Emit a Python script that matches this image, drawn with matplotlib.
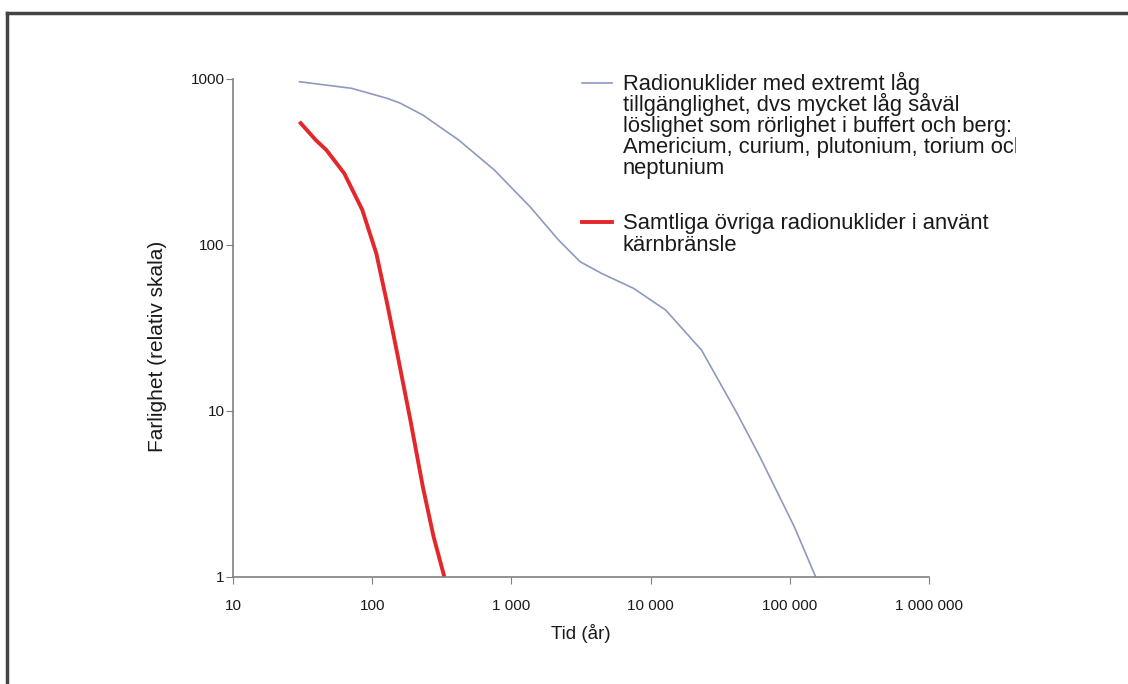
import matplotlib
matplotlib.use("Agg")
import matplotlib.pyplot as plt
from matplotlib.lines import Line2D
from matplotlib.transforms import Bbox, TransformedBbox

plt.rcParams['font.family'] = ['Liberation Sans', 'DejaVu Sans']

# Data
blue_x = [30, 71, 128, 158, 231, 260, 418, 754, 1361, 2185, 3110, 4436, 7550,
          12850, 23200, 41800, 61100, 75600, 107700, 153500]
blue_y = [963, 879, 765, 717, 607, 566, 429, 283, 170, 107, 79.4, 67.5, 54.8,
          40.5, 23.3, 9.68, 5.28, 3.67, 2.01, 1.0]

red_x = [30, 39.3, 46.9, 63, 84.8, 107, 128, 153, 188, 231, 276, 330]
red_y = [553, 429, 373, 270, 163, 89.1, 44.5, 21.2, 8.83, 3.50, 1.75, 1.0]

x_ticks = [10, 100, 1000, 10000, 100000, 1000000]
x_ticklabels = ["10", "100", "1 000", "10 000", "100 000", "1 000 000"]
y_ticks = [1, 10, 100, 1000]
y_ticklabels = ["1", "10", "100", "1000"]

label_blue = ["Radionuklider med extremt låg",
              "tillgänglighet, dvs mycket låg såväl",
              "löslighet som rörlighet i buffert och berg:",
              "Americium, curium, plutonium, torium och",
              "neptunium"]
label_red = ["Samtliga övriga radionuklider i använt",
             "kärnbränsle"]

blue_col = "#8f98bf"
red_col = "#e4272b"
text_col = "#1a1a1a"

W, H = 1128, 684
fig = plt.figure(figsize=(W / 100, H / 100), dpi=100)
fig.patch.set_facecolor("white")

ax = fig.add_axes([233 / W, 1 - 577 / H, (929 - 233) / W, (577 - 79) / H])
ax.plot(blue_x, blue_y, color=blue_col, lw=1.2, solid_joinstyle="round")
ax.plot(red_x, red_y, color=red_col, lw=2.8, clip_on=False,
        solid_joinstyle="round", solid_capstyle="butt")
ax.set_xscale("log")
ax.set_yscale("log")
ax.set_xlim(10, 1000000)
ax.set_ylim(1, 1000)
ax.set_xticks(x_ticks)
ax.set_xticklabels(x_ticklabels)
ax.set_yticks(y_ticks)
ax.set_yticklabels(y_ticklabels)
ax.minorticks_off()
for s in ["top", "right"]:
    ax.spines[s].set_visible(False)
for s in ["left", "bottom"]:
    ax.spines[s].set_color("#808080")
    ax.spines[s].set_linewidth(1.2)
ax.tick_params(axis="both", direction="out", length=5, color="#808080",
               labelsize=11, labelcolor=text_col)
ax.tick_params(axis="x", pad=11)
ax.tick_params(axis="y", pad=1)
ax.set_xlabel("Tid (år)", fontsize=13.5, color=text_col, labelpad=8)
ax.set_ylabel("Farlighet (relativ skala)", fontsize=15, color=text_col)
ax.yaxis.set_label_coords((167 - 233) / 696, (577 - 346) / 498)

# Legend drawn manually (text clipped at right as in reference)
fs = 15.8
clipbox = TransformedBbox(Bbox([[0, 0], [1016 / W, 1]]), fig.transFigure)


def legend_entry(y_line, baselines, lines, color, lw):
    fig.add_artist(Line2D([582 / W, 612 / W], [1 - y_line / H, 1 - y_line / H],
                          transform=fig.transFigure, color=color, lw=lw))
    for yb, txt in zip(baselines, lines):
        t = fig.text(623 / W, 1 - yb / H, txt, fontsize=fs, color=text_col,
                     va="baseline", ha="left")
        t.set_clip_box(clipbox)
        t.set_clip_on(True)


legend_entry(83, [90, 111, 132, 153, 174], label_blue, blue_col, 1.2)
legend_entry(222, [229, 251], label_red, red_col, 2.8)

# Frame border (top and left visible)
fig.add_artist(Line2D([7 / W, 1.0], [1 - 13 / H, 1 - 13 / H],
                      transform=fig.transFigure, color="#444444", lw=2.5))
fig.add_artist(Line2D([7 / W, 7 / W], [0.0, 1 - 13 / H],
                      transform=fig.transFigure, color="#444444", lw=2.5))

fig.savefig("out.png", dpi=100)
